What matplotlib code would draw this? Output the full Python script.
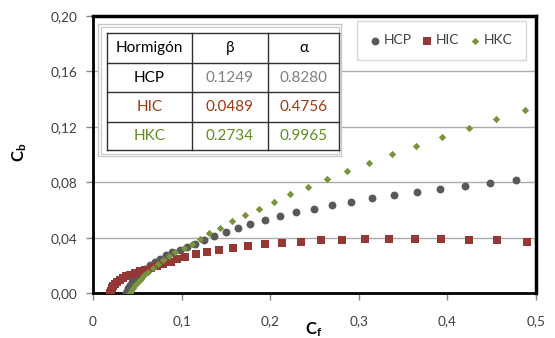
import matplotlib
matplotlib.use('Agg')
import matplotlib.pyplot as plt
from matplotlib.patches import Rectangle

plt.rcParams['font.family'] = ['Lato', 'DejaVu Sans']
plt.rcParams['mathtext.fontset'] = 'custom'
plt.rcParams['mathtext.rm'] = 'Lato'
plt.rcParams['mathtext.bf'] = 'Lato:bold'

# data
hcp_x = [0.0370, 0.0380, 0.0395, 0.0415, 0.0440, 0.0470, 0.0505, 0.0545, 0.0590, 0.0640,
         0.0695, 0.0755, 0.0820, 0.0890, 0.0980, 0.1056, 0.1149, 0.1254, 0.1371, 0.1501,
         0.1633, 0.1775, 0.1939, 0.2112, 0.2292, 0.2494, 0.2700, 0.2917, 0.3153, 0.3400,
         0.3655, 0.3920, 0.4194, 0.4483, 0.4771]
hcp_y = [0.0000, 0.0020, 0.0040, 0.0060, 0.0083, 0.0106, 0.0130, 0.0154, 0.0178, 0.0202,
         0.0226, 0.0250, 0.0273, 0.0294, 0.0312, 0.0331, 0.0357, 0.0384, 0.0413, 0.0442,
         0.0471, 0.0499, 0.0526, 0.0555, 0.0584, 0.0608, 0.0636, 0.0660, 0.0687, 0.0708,
         0.0730, 0.0752, 0.0773, 0.0793, 0.0814]

hic_x = [0.0195, 0.0200, 0.0210, 0.0225, 0.0245, 0.0270, 0.0300, 0.0335, 0.0375, 0.0420,
         0.0470, 0.0525, 0.0585, 0.0650, 0.0720, 0.0795, 0.0875, 0.0945, 0.1037, 0.1157,
         0.1284, 0.1427, 0.1584, 0.1753, 0.1936, 0.2131, 0.2344, 0.2577, 0.2816, 0.3070,
         0.3344, 0.3630, 0.3928, 0.4240, 0.4562, 0.4899]
hic_y = [0.0000, 0.0018, 0.0035, 0.0052, 0.0068, 0.0083, 0.0097, 0.0110, 0.0123, 0.0135,
         0.0147, 0.0159, 0.0171, 0.0183, 0.0196, 0.0210, 0.0225, 0.0245, 0.0264, 0.0281,
         0.0295, 0.0312, 0.0324, 0.0339, 0.0353, 0.0365, 0.0372, 0.0382, 0.0384, 0.0391,
         0.0394, 0.0394, 0.0389, 0.0387, 0.0382, 0.0372]

hkc_x = [0.0415, 0.0430, 0.0450, 0.0475, 0.0505, 0.0540, 0.0580, 0.0625, 0.0675, 0.0730,
         0.0790, 0.0855, 0.0925, 0.1026, 0.1112, 0.1206, 0.1314, 0.1434, 0.1565, 0.1711,
         0.1869, 0.2045, 0.2228, 0.2427, 0.2640, 0.2870, 0.3120, 0.3380, 0.3650, 0.3940,
         0.4240, 0.4550, 0.4880]
hkc_y = [0.0000, 0.0018, 0.0037, 0.0058, 0.0080, 0.0104, 0.0129, 0.0155, 0.0182, 0.0210,
         0.0239, 0.0268, 0.0297, 0.0324, 0.0357, 0.0394, 0.0432, 0.0473, 0.0519, 0.0564,
         0.0610, 0.0660, 0.0713, 0.0768, 0.0824, 0.0881, 0.0939, 0.1002, 0.1062, 0.1126,
         0.1191, 0.1256, 0.1323]

x_ticks = [0, 0.1, 0.2, 0.3, 0.4, 0.5]
x_labels = ['0', '0,1', '0,2', '0,3', '0,4', '0,5']
y_ticks = [0, 0.04, 0.08, 0.12, 0.16, 0.20]
y_labels = ['0,00', '0,04', '0,08', '0,12', '0,16', '0,20']

table_header = ['Hormigón', 'β', 'α']
table_rows = [['HCP', '0.1249', '0.8280'],
              ['HIC', '0.0489', '0.4756'],
              ['HKC', '0.2734', '0.9965']]

c_hcp = '#595959'
c_hic = '#953735'
c_hkc = '#77933C'

W, H = 555, 338
fig = plt.figure(figsize=(W / 100, H / 100), dpi=100)
ax = fig.add_axes([93 / W, 1 - 293.3 / H, (536 - 93) / W, (293.3 - 15.7) / H])

ax.scatter(hcp_x, hcp_y, s=32, marker='o', color=c_hcp, linewidths=0, label='HCP', zorder=3)
ax.scatter(hic_x, hic_y, s=32, marker='s', color=c_hic, linewidths=0, label='HIC', zorder=3)
ax.scatter(hkc_x, hkc_y, s=14, marker='D', color=c_hkc, linewidths=0, label='HKC', zorder=3)

ax.set_xlim(0, 0.5)
ax.set_ylim(0, 0.20)
ax.set_xticks(x_ticks)
ax.set_xticklabels(x_labels)
ax.set_yticks(y_ticks)
ax.set_yticklabels(y_labels)
ax.tick_params(axis='both', length=5, width=1, color='#868686', labelcolor='#404040',
               labelsize=9.8)
ax.tick_params(axis='x', pad=11)
ax.tick_params(axis='y', pad=6)
for y in y_ticks[1:-1]:
    ax.axhline(y, color='#ababab', lw=1, zorder=1)
for s in ax.spines.values():
    s.set_color('black')
    s.set_linewidth(2)
ax.spines['top'].set_linewidth(2.5)
ax.spines['right'].set_linewidth(2.5)

leg = ax.legend(loc='upper right', bbox_to_anchor=(0.9775, 0.98), ncol=3, fontsize=10,
                frameon=True, fancybox=False, edgecolor='#d0d0d0', handlelength=0.6,
                handletextpad=0.35, columnspacing=0.8, borderpad=0.95, borderaxespad=0,
                scatterpoints=1)
leg.get_frame().set_linewidth(1)
for t in leg.get_texts():
    t.set_color('#404040')

# overlay in pixel coordinates for the table and axis titles
ov = fig.add_axes([0, 0, 1, 1], zorder=5)
ov.set_xlim(0, W)
ov.set_ylim(H, 0)
ov.axis('off')

ov.add_patch(Rectangle((98, 24), 243, 132, facecolor='white', edgecolor='#c8c8c8', lw=1))
ov.add_patch(Rectangle((100.5, 26.5), 238, 127, facecolor='none', edgecolor='#c8c8c8', lw=0.8))

xs = [107.3, 191.7, 268.3, 339]
ys = [33.3, 62.7, 92.3, 121.5, 150]
for x in xs:
    ov.plot([x, x], [ys[0], ys[-1]], color='#303030', lw=1)
for y in ys:
    ov.plot([xs[0], xs[-1]], [y, y], color='#303030', lw=1)

row_colors = [('black', '#808080'), ('#9C3A12', '#9C3A12'), ('#5E8F1E', '#5E8F1E')]
cx = [(xs[i] + xs[i + 1]) / 2 for i in range(3)]
cy = [(ys[i] + ys[i + 1]) / 2 for i in range(4)]
for j, txt in enumerate(table_header):
    ov.text(cx[j], cy[0], txt, ha='center', va='center', fontsize=11, color='black')
for i, row in enumerate(table_rows):
    for j, txt in enumerate(row):
        col = row_colors[i][0] if j == 0 else row_colors[i][1]
        ov.text(cx[j], cy[i + 1], txt, ha='center', va='center', fontsize=11, color=col)

ov.text(20, 152, r'$\mathbf{C_b}$', rotation=90, ha='center', va='center', fontsize=12)
ov.text(314, 330, r'$\mathbf{C_f}$', ha='center', va='center', fontsize=12)

fig.savefig('out.png', dpi=100)
